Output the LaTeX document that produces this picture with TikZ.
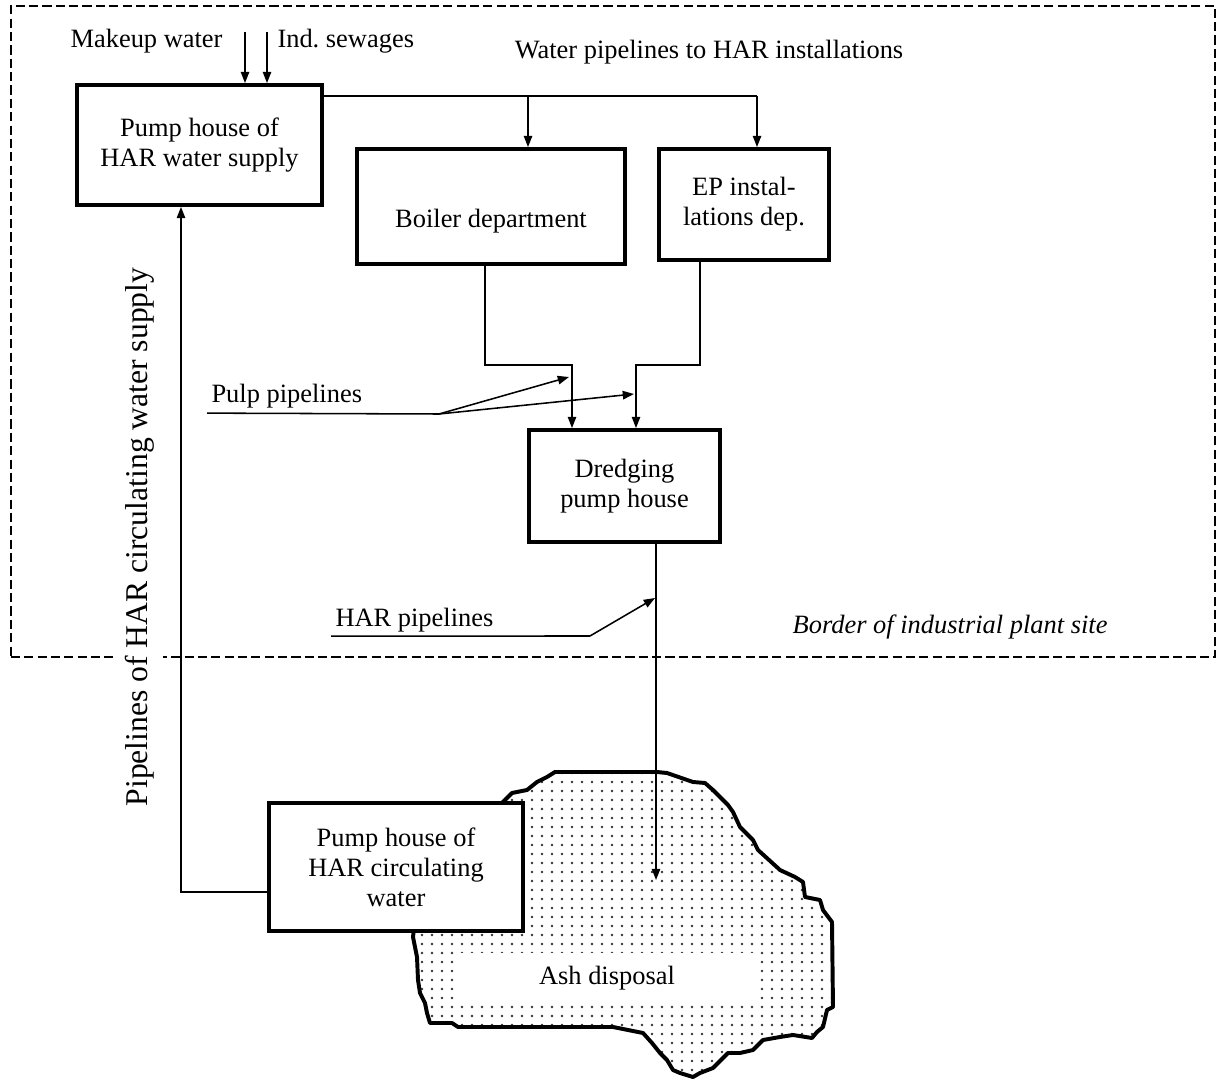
\documentclass[tikz,border=0pt]{standalone}
\usepackage{fontspec}
\setmainfont{Liberation Serif}
\usetikzlibrary{arrows.meta, positioning}
\frenchspacing

\begin{document}
\begin{tikzpicture}[x=0.025cm, y=-0.025cm,
    font=\fontsize{18.8}{21.3}\selectfont,
    unit/.style={rectangle, draw=black, line width=2.8pt, fill=white, align=center, inner sep=2pt},
    border/.style={rectangle, draw=black, line width=1.4pt, dash pattern=on 6.5pt off 3pt},
    arrow/.style={-{Triangle[length=8pt, width=6pt]}, line width=1.1pt},
    pipe/.style={line width=1.1pt},
    tag/.style={inner sep=3pt}
]
\useasboundingbox (0,0) rectangle (1219,1083);

% ==== Border of the plant site ====
\node[border, minimum width=30.1cm, minimum height=16.275cm] (site) at (613,331.5) {};
\node[rotate=90, fill=white, inner sep=5.9pt, font=\fontsize{22.5}{27}\selectfont] (retlabel) at (140,537) {Pipelines of HAR circulating water supply};
\node[tag, anchor=base east, font=\fontsize{18.8}{21.3}\selectfont\itshape] (sitelabel) at (1112,633) {Border of industrial plant site};

% ==== Ash disposal area ====
\def\ashedge{(555,772) -- (657,772) -- (667,773) -- (693,782) -- (705,783) -- (713,790) -- (728,805) -- (733,812) -- (740,827) -- (753,840) -- (758,850) -- (780,870) -- (795,877) -- (803,882) -- (805,897) -- (820,900) -- (823,910) -- (832,922) -- (833,1007) -- (827,1010) -- (823,1027) -- (817,1032) -- (812,1038) -- (793,1035) -- (780,1037) -- (763,1040) -- (753,1050) -- (740,1053) -- (728,1053) -- (713,1068) -- (700,1073) -- (693,1077) -- (680,1073) -- (673,1070) -- (667,1060) -- (660,1053) -- (652,1043) -- (643,1033) -- (613,1027) -- (593,1027) -- (458,1027) -- (452,1023) -- (430,1023) -- (427,1013) -- (425,1003) -- (420,993) -- (418,980) -- (417,957) -- (413,937) -- (420,880) -- (500,805) -- (512,793) -- (527,790) -- (537,782) -- (547,777) -- cycle}
\begin{scope}
  \clip \ashedge;
  \foreach \i in {0,...,43}
    \foreach \j in {0,...,34}
      \fill[black!80] ({412+10*\i},{773+9*\j}) circle[radius=0.9pt];
\end{scope}
\draw[line width=2.8pt, line join=round] \ashedge;
\node[fill=white, minimum width=7.5cm, minimum height=1.25cm] (ash) at (607,978) {Ash disposal};

% ==== Units ====
\node[unit, minimum width=6.125cm, minimum height=3cm] (supply) at (199.5,145) {Pump house of\\HAR water supply};
\node[unit, minimum width=6.7cm, minimum height=2.875cm, label={[yshift=-0.37cm]center:Boiler department}] (boiler) at (491,206.5) {};
\node[unit, minimum width=4.25cm, minimum height=2.775cm] (epdep) at (744,204.5) {EP instal-\\lations dep.};
\node[unit, minimum width=4.775cm, minimum height=2.8cm] (dredging) at (624.5,486) {Dredging\\pump house};
\node[unit, minimum width=6.35cm, minimum height=3.2cm] (circ) at (396,867) {Pump house of\\HAR circulating\\water};

% ==== Inputs ====
\coordinate (mk) at (245,32);
\coordinate (sw) at (267,32);
\node[tag, anchor=base east] (mklabel) at (227,48) {Makeup water};
\node[tag, anchor=base west] (swlabel) at (273,48) {Ind. sewages};
\draw[arrow] (mk) -- (mk |- supply.north);
\draw[arrow] (sw) -- (sw |- supply.north);

% ==== Water pipelines ====
\node[tag, anchor=base] (wplabel) at (709,59) {Water pipelines to HAR installations};
\coordinate (wb) at (528,96);
\coordinate (wl) at (757,96);
\draw[pipe] (supply.east |- wl) -- (wl);
\draw[arrow] (wb) -- (wb |- boiler.north);
\draw[arrow] (wl) -- (wl |- epdep.north);

% ==== Pulp pipelines ====
\coordinate (bo) at (485,365);
\coordinate (bj) at (572,365);
\coordinate (eo) at (700,365);
\coordinate (ej) at (636,365);
\draw[arrow] (bo |- boiler.south) -- (bo) -- (bj) -- (bj |- dredging.north);
\draw[arrow] (eo |- epdep.south) -- (eo) -- (ej) -- (ej |- dredging.north);

\node[tag, anchor=base west] (pulp) at (207,403) {Pulp pipelines};
\coordinate (pp) at (439,414);
\coordinate (pa) at (569,377);
\coordinate (pb) at (634,394);
\draw[pipe] (pulp.south west) -- (pp);
\draw[arrow] (pp) -- (pa);
\draw[arrow] (pp) -- (pb);

% ==== HAR pipelines ====
\coordinate (ashin) at (656,880);
\draw[arrow] (dredging.south -| ashin) -- (ashin);
\node[tag, anchor=base west] (har) at (331,626) {HAR pipelines};
\coordinate (hp) at (590,636);
\coordinate (ht) at (655,598);
\draw[pipe] (har.south west) -- (hp);
\draw[arrow] (hp) -- (ht);

% ==== Circulating water return ====
\coordinate (rl) at (181,892);
\draw[arrow] (circ.west |- rl) -- (rl) -- (rl |- supply.south);

\end{tikzpicture}
\end{document}
